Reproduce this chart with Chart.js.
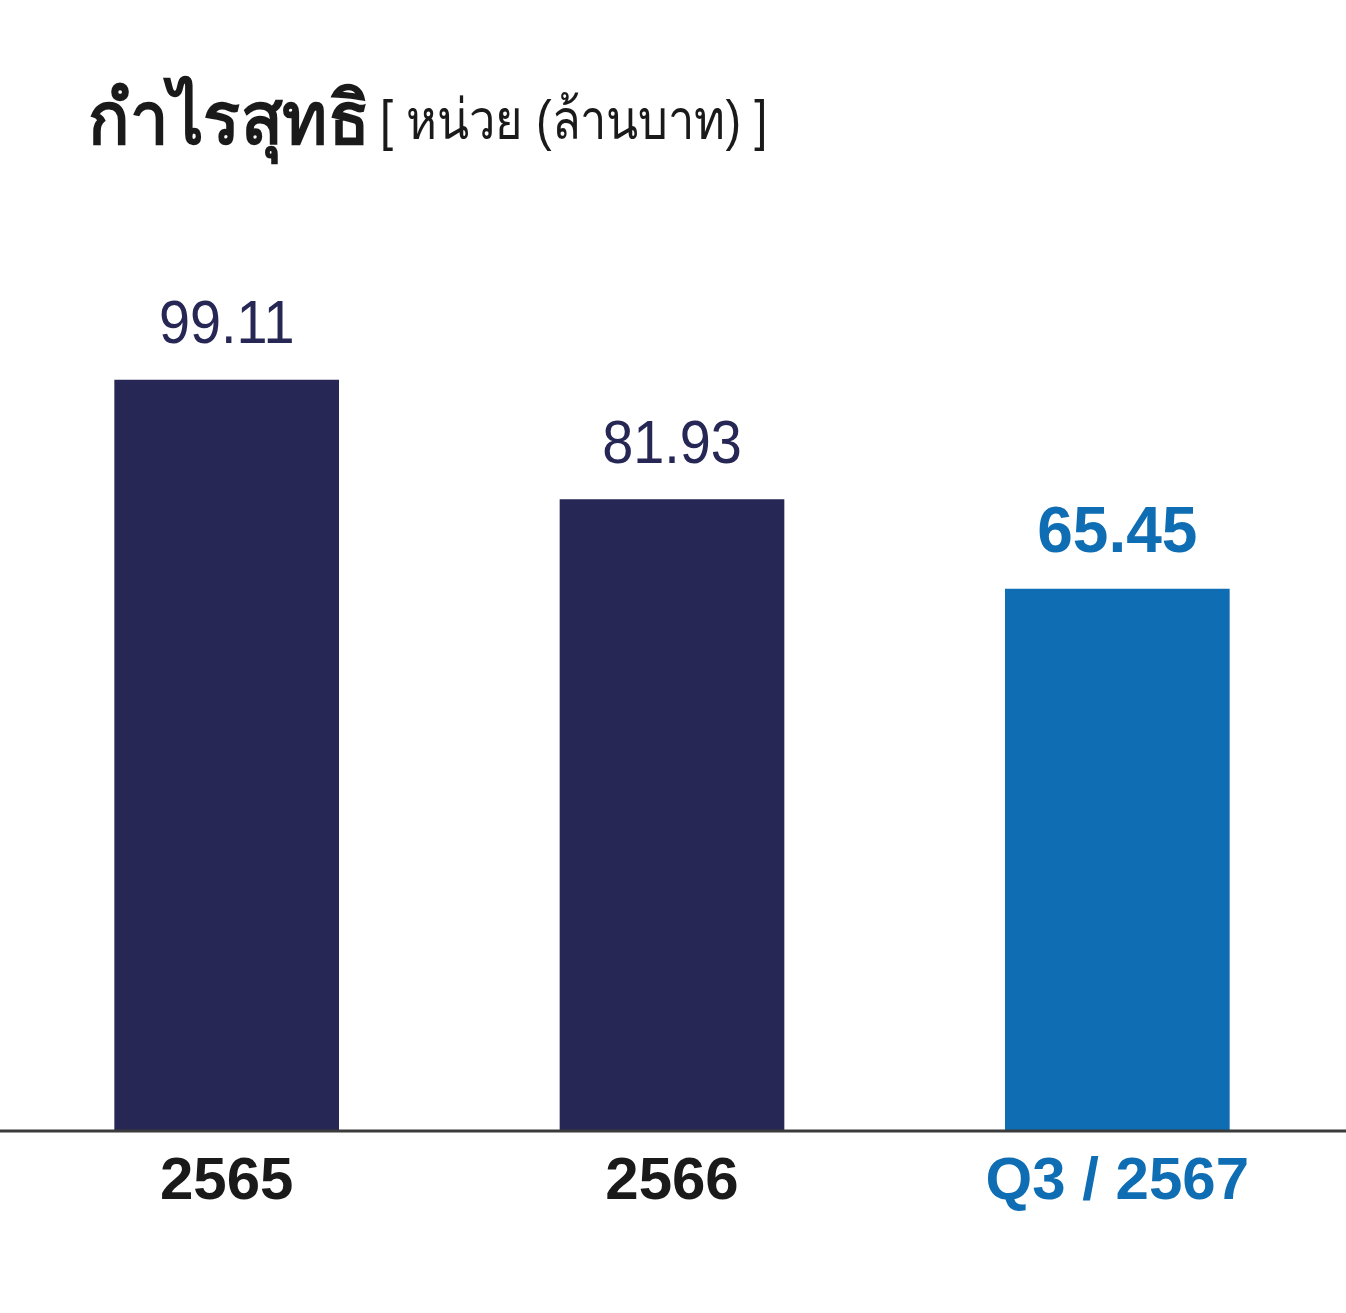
<!DOCTYPE html>
<html>
<head>
<meta charset="utf-8">
<script src="https://cdn.jsdelivr.net/npm/chart.js@4.4.0/dist/chart.umd.min.js"></script>
<style>
  html, body { margin: 0; padding: 0; background: #fff; }
  #wrap { position: relative; width: 1346px; height: 1313px; }
  .ttl { position: absolute; white-space: nowrap; color: #1a1a1a; font-family: "Liberation Sans", "Noto Sans", sans-serif; transform-origin: 0 0; line-height: 1; }
  #t1 { left: 88px; top: 82px; font-size: 74px; font-weight: 700; transform: scaleX(0.93); }
  #t2 { left: 380px; top: 92px; font-size: 56px; transform: scaleX(0.84); }
</style>
</head>
<body>
<div id="wrap">
  <div class="ttl" id="t1">กำไรสุทธิ</div>
  <div class="ttl" id="t2">[ หน่วย (ล้านบาท) ]</div>
  <canvas id="chart" width="1346" height="1313"></canvas>
</div>
<script>
const categories = ['2565', '2566', 'Q3 / 2567'];
// bar heights as drawn in the picture (not strictly proportional to the printed values)
const barHeights = [99.11, 83.3, 71.5];
const printedValues = ['99.11', '81.93', '65.45'];
const barColors = ['#262755', '#262755', '#0e6db3'];
const labelColors = ['#1a1a1a', '#1a1a1a', '#0e6db3'];

const valueLabels = {
  id: 'valueLabels',
  afterDatasetsDraw(chart) {
    const ctx = chart.ctx;
    const meta = chart.getDatasetMeta(0);
    meta.data.forEach((bar, i) => {
      const last = i === meta.data.length - 1;
      ctx.save();
      ctx.translate(bar.x, bar.y - 37);
      ctx.scale(last ? 1.0 : 0.9, 1);
      ctx.textAlign = 'center';
      ctx.textBaseline = 'alphabetic';
      ctx.font = last ? 'bold 64px "Liberation Sans", sans-serif' : '62px "Liberation Sans", sans-serif';
      ctx.fillStyle = barColors[i];
      ctx.fillText(printedValues[i], 0, 0);
      ctx.restore();
    });
  }
};

const baseLine = {
  id: 'baseLine',
  afterDatasetsDraw(chart) {
    const ctx = chart.ctx;
    const y = chart.scales.y.getPixelForValue(0);
    ctx.save();
    ctx.strokeStyle = '#3b3b3b';
    ctx.lineWidth = 3;
    ctx.beginPath();
    ctx.moveTo(0, y + 1);
    ctx.lineTo(chart.width, y + 1);
    ctx.stroke();
    ctx.restore();
  }
};

new Chart(document.getElementById('chart'), {
  type: 'bar',
  data: {
    labels: categories,
    datasets: [{ data: barHeights, backgroundColor: barColors, barThickness: 224 }],
  },
  options: {
    responsive: false,
    animation: false,
    layout: { padding: { top: 250, left: 4, right: 6, bottom: 87 } },
    plugins: { legend: { display: false }, tooltip: { enabled: false } },
    scales: {
      x: {
        grid: { display: false },
        border: { display: false },
        ticks: {
          color: labelColors,
          padding: 8,
          font: { family: '"Liberation Sans", sans-serif', size: 60, weight: 'bold' },
        },
      },
      y: {
        display: false,
        min: 0,
        max: 116.3,
      },
    },
  },
  plugins: [valueLabels, baseLine],
});
</script>
</body>
</html>
